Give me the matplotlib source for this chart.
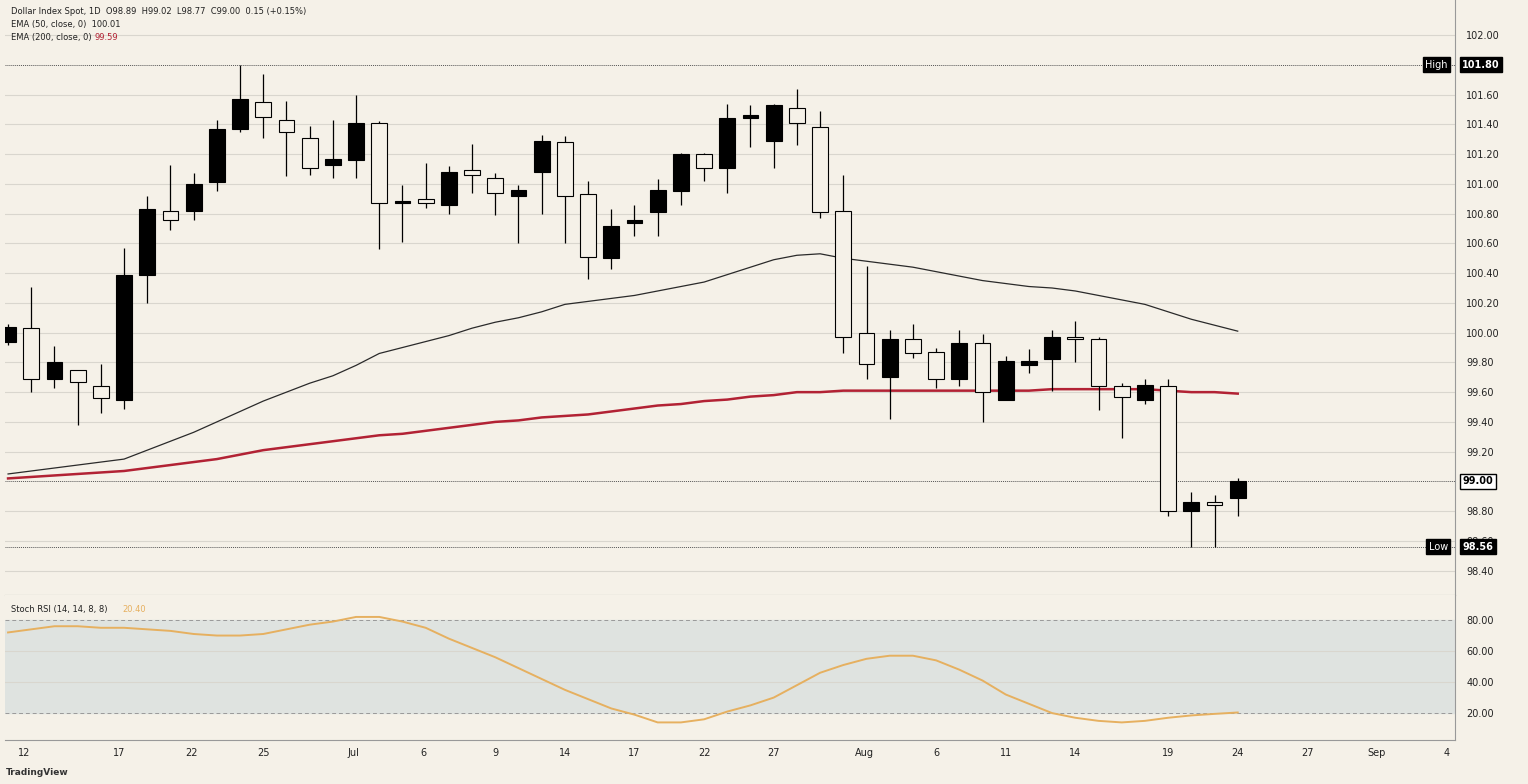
import numpy as np
import matplotlib
matplotlib.use("Agg")
import matplotlib.pyplot as plt

opens = [99.94, 100.03, 99.69, 99.75, 99.64, 99.55, 100.39, 100.82, 100.82, 101.01,
         101.37, 101.55, 101.43, 101.31, 101.13, 101.16, 101.41, 100.87, 100.90, 100.86,
         101.09, 101.04, 100.92, 101.08, 101.28, 100.93, 100.50, 100.74, 100.81, 100.95,
         101.20, 101.11, 101.44, 101.29, 101.51, 101.38, 100.82, 100.00, 99.70, 99.96,
         99.87, 99.69, 99.93, 99.55, 99.78, 99.82, 99.97, 99.96, 99.64, 99.55,
         99.64, 98.80, 98.86, 98.89]
highs = [100.06, 100.31, 99.91, 99.75, 99.79, 100.57, 100.92, 101.13, 101.07, 101.43,
         101.80, 101.74, 101.56, 101.39, 101.43, 101.60, 101.42, 100.99, 101.14, 101.12,
         101.27, 101.07, 100.99, 101.33, 101.32, 101.02, 100.83, 100.86, 101.03, 101.21,
         101.21, 101.54, 101.53, 101.54, 101.64, 101.49, 101.06, 100.45, 100.02, 100.06,
         99.90, 100.02, 99.99, 99.84, 99.89, 100.02, 100.08, 99.97, 99.66, 99.69,
         99.69, 98.93, 98.91, 99.02]
lows = [99.92, 99.60, 99.63, 99.38, 99.46, 99.49, 100.20, 100.69, 100.76, 100.95,
        101.35, 101.31, 101.05, 101.06, 101.04, 101.04, 100.56, 100.61, 100.84, 100.80,
        100.94, 100.79, 100.60, 100.80, 100.60, 100.36, 100.43, 100.65, 100.65, 100.86,
        101.02, 100.94, 101.25, 101.11, 101.26, 100.77, 99.86, 99.69, 99.42, 99.83,
        99.63, 99.64, 99.40, 99.55, 99.73, 99.61, 99.80, 99.48, 99.29, 99.52,
        98.77, 98.56, 98.56, 98.77]
closes = [100.04, 99.69, 99.80, 99.67, 99.56, 100.39, 100.83, 100.76, 101.00, 101.37,
          101.57, 101.45, 101.35, 101.11, 101.17, 101.41, 100.87, 100.88, 100.87, 101.08,
          101.06, 100.94, 100.96, 101.29, 100.92, 100.51, 100.72, 100.76, 100.96, 101.20,
          101.11, 101.44, 101.46, 101.53, 101.41, 100.81, 99.97, 99.79, 99.96, 99.86,
          99.69, 99.93, 99.60, 99.81, 99.81, 99.97, 99.96, 99.64, 99.57, 99.65,
          98.80, 98.86, 98.84, 99.00]

ema50 = [99.05, 99.07, 99.09, 99.11, 99.13, 99.15, 99.21, 99.27, 99.33, 99.40,
         99.47, 99.54, 99.60, 99.66, 99.71, 99.78, 99.86, 99.90, 99.94, 99.98,
         100.03, 100.07, 100.10, 100.14, 100.19, 100.21, 100.23, 100.25, 100.28, 100.31,
         100.34, 100.39, 100.44, 100.49, 100.52, 100.53, 100.50, 100.48, 100.46, 100.44,
         100.41, 100.38, 100.35, 100.33, 100.31, 100.30, 100.28, 100.25, 100.22, 100.19,
         100.14, 100.09, 100.05, 100.01]
ema200 = [99.02, 99.03, 99.04, 99.05, 99.06, 99.07, 99.09, 99.11, 99.13, 99.15,
          99.18, 99.21, 99.23, 99.25, 99.27, 99.29, 99.31, 99.32, 99.34, 99.36,
          99.38, 99.40, 99.41, 99.43, 99.44, 99.45, 99.47, 99.49, 99.51, 99.52,
          99.54, 99.55, 99.57, 99.58, 99.60, 99.60, 99.61, 99.61, 99.61, 99.61,
          99.61, 99.61, 99.61, 99.61, 99.61, 99.62, 99.62, 99.62, 99.62, 99.62,
          99.61, 99.60, 99.60, 99.59]
stoch = [72, 74, 76, 76, 75, 75, 74, 73, 71, 70,
         70, 71, 74, 77, 79, 82, 82, 79, 75, 68,
         62, 56, 49, 42, 35, 29, 23, 19, 14, 14,
         16, 21, 25, 30, 38, 46, 51, 55, 57, 57,
         54, 48, 41, 32, 26, 20, 17, 15, 14, 15,
         17, 18.5, 19.5, 20.4]

tick_idx = [0.7, 4.8, 7.9, 11, 14.9, 17.9, 21, 24, 27, 30, 33, 36.9, 40, 43, 46, 50, 53, 56, 59, 62]
tick_lbl = ["12", "17", "22", "25", "Jul", "6", "9", "14", "17", "22", "27",
            "Aug", "6", "11", "14", "19", "24", "27", "Sep", "4"]

bg = "#f5f1e8"
grid = "#d9d6ce"
fig = plt.figure(figsize=(15.28, 7.84), dpi=100, facecolor=bg)
ax = fig.add_axes([0.0033, 0.241, 0.949, 0.759], facecolor=bg)
ax2 = fig.add_axes([0.0033, 0.056, 0.949, 0.185], facecolor=bg, sharex=ax)

x = np.arange(len(opens))
w = 0.68
for i in x:
    o, h, l, c = opens[i], highs[i], lows[i], closes[i]
    up = c >= o
    lo_b, hi_b = min(o, c), max(o, c)
    ax.vlines(i, l, lo_b, color="black", lw=0.9, zorder=3)
    ax.vlines(i, hi_b, h, color="black", lw=0.9, zorder=3)
    body_h = max(hi_b - lo_b, 0.012)
    ax.bar(i, body_h, bottom=lo_b, width=w, color="black" if up else bg,
           edgecolor="black", linewidth=0.8, zorder=4)

ax.plot(x, ema50, color="#2a2a2a", lw=0.9, zorder=2)
ax.plot(x, ema200, color="#b22234", lw=1.8, zorder=2)

ax.set_xlim(-0.13, 62.37)
ax.set_ylim(98.236, 102.236)
yt = [v for v in np.round(np.arange(98.4, 102.01, 0.2), 2) if v not in (101.8, 99.0)]
ax.set_yticks(yt)
ax.yaxis.tick_right()
ax.set_yticklabels([f"{v:.2f}" for v in yt], fontsize=7, color="#222")
ax.tick_params(axis="y", length=0, pad=8)
ax.grid(axis="y", color=grid, lw=0.8)
ax.tick_params(axis="x", length=0, labelbottom=False)
for s in ax.spines.values():
    s.set_visible(False)
ax.spines["right"].set_visible(True)
ax.spines["right"].set_color("#999")
ax.spines["bottom"].set_visible(True)
ax.spines["bottom"].set_color("#999")

for lvl in (101.80, 99.00, 98.56):
    ax.axhline(lvl, color="#555", lw=0.7, ls=(0, (1, 1)), zorder=1)
bb = dict(boxstyle="square,pad=0.25", fc="black", ec="black")
yx = ax.get_yaxis_transform()
ax.text(1.005, 101.80, "101.80", transform=yx, color="white",
        fontsize=7, va="center", bbox=bb, fontweight="bold")
ax.text(0.995, 101.80, "High", transform=yx, color="white",
        fontsize=7, va="center", ha="right", bbox=bb)
ax.text(1.005, 99.00, "99.00", transform=yx, color="black",
        fontsize=7, va="center", fontweight="bold",
        bbox=dict(boxstyle="square,pad=0.25", fc="white", ec="black"))
ax.text(1.005, 98.56, "98.56", transform=yx, color="white",
        fontsize=7, va="center", bbox=bb, fontweight="bold", zorder=5)
ax.text(0.995, 98.56, "Low", transform=yx, color="white",
        fontsize=7, va="center", ha="right", bbox=bb)

ax.text(0.004, 0.989, "Dollar Index Spot, 1D  O98.89  H99.02  L98.77  C99.00  0.15 (+0.15%)",
        transform=ax.transAxes, fontsize=6, va="top", color="#222")
ax.text(0.004, 0.967, "EMA (50, close, 0)  100.01", transform=ax.transAxes,
        fontsize=6, va="top", color="#222")
ax.text(0.004, 0.945, "EMA (200, close, 0)", transform=ax.transAxes,
        fontsize=6, va="top", color="#222")
ax.text(0.062, 0.945, "99.59", transform=ax.transAxes, fontsize=6, va="top", color="#b22234")

# Stoch RSI panel
ax2.axhspan(20, 80, color="#dfe3e0", zorder=0)
ax2.axhline(80, color="#999", lw=0.7, ls=(0, (4, 3)))
ax2.axhline(20, color="#999", lw=0.7, ls=(0, (4, 3)))
for g in (40, 60):
    ax2.axhline(g, color=grid, lw=0.8, zorder=0.5)
ax2.plot(x, stoch, color="#e6b060", lw=1.4)
ax2.set_ylim(2.6, 96.1)
ax2.yaxis.tick_right()
ax2.set_yticks([20, 40, 60, 80])
ax2.set_yticklabels(["20.00", "40.00", "60.00", "80.00"], fontsize=7, color="#222")
ax2.tick_params(axis="y", length=0, pad=8)
ax2.set_xticks(tick_idx)
ax2.set_xticklabels(tick_lbl, fontsize=7, color="#222")
ax2.tick_params(axis="x", length=0, pad=6)
for s in ax2.spines.values():
    s.set_visible(False)
ax2.spines["right"].set_visible(True)
ax2.spines["right"].set_color("#999")
ax2.spines["bottom"].set_visible(True)
ax2.spines["bottom"].set_color("#999")
ax2.text(0.004, 0.93, "Stoch RSI (14, 14, 8, 8)", transform=ax2.transAxes,
         fontsize=6, va="top", color="#222")
ax2.text(0.081, 0.93, "20.40", transform=ax2.transAxes, fontsize=6, va="top", color="#e6b060")

fig.text(0.004, 0.012, "TradingView", fontsize=6.5, color="#333", fontweight="bold")

fig.savefig("out.png", dpi=100, facecolor=bg)
